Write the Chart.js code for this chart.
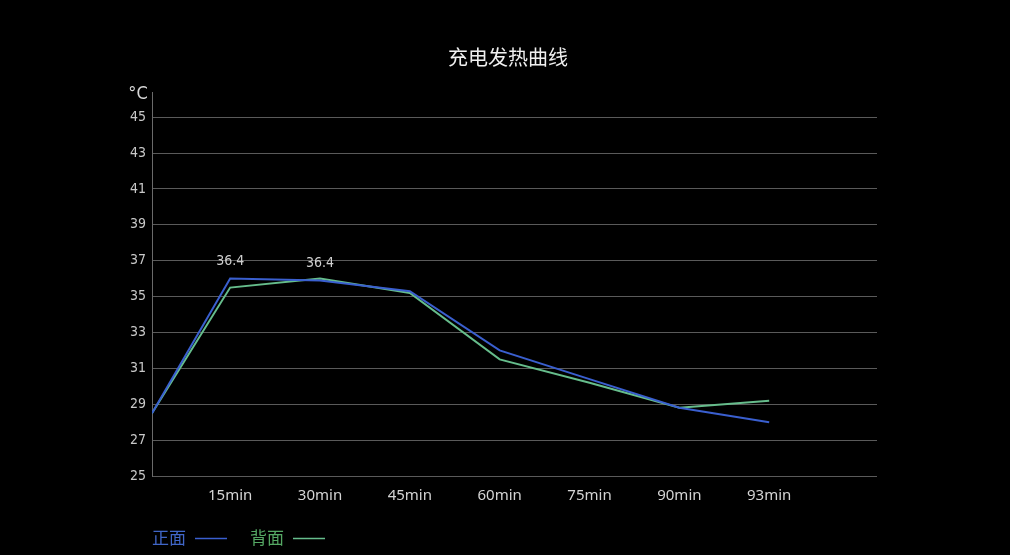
<!DOCTYPE html>
<html>
<head>
<meta charset="utf-8">
<script src="https://cdn.jsdelivr.net/npm/chart.js@4.4.0/dist/chart.umd.min.js"></script>
<style>
  html, body { margin: 0; padding: 0; background: #000; }
  #wrap { position: relative; width: 1010px; height: 555px; }
</style>
</head>
<body>
<div id="wrap"><canvas id="c" width="1010" height="555"></canvas></div>
<script>
// chart data
var title = "充电发热曲线";
var unit = "°C";
var xLabels = ["15min", "30min", "45min", "60min", "75min", "90min", "93min"];
var xPos = [0.13, 1, 2, 3, 4, 5, 6, 7];        // start point sits on the y axis
var yTicks = [25, 27, 29, 31, 33, 35, 37, 39, 41, 43, 45];
var frontName = "正面";
var backName = "背面";
var frontTemp = [28.5, 36.0, 35.9, 35.3, 32.0, 30.4, 28.8, 28.0];
var backTemp  = [28.5, 35.5, 36.0, 35.2, 31.5, 30.2, 28.8, 29.2];
var peakIdx = [1, 2];
var peakText = ["36.4", "36.4"];

var blue = "#3a5fcf";
var green = "#66bd8c";
var narrow = "'DejaVu Sans Condensed', 'Liberation Sans Narrow', 'Roboto Condensed', sans-serif";

function pts(vals) {
    return vals.map(function (v, i) { return { x: xPos[i], y: v }; });
}

var extras = {
    id: "extras",
    afterDraw: function (chart) {
        var ctx = chart.ctx;
        var xs = chart.scales.x, ys = chart.scales.y;
        ctx.save();
        ctx.textAlign = "center";
        ctx.textBaseline = "middle";

        ctx.fillStyle = "#f0f0f0";
        ctx.font = "20px 'Noto Sans CJK SC'";
        ctx.fillText(title, 508, 57);

        ctx.fillStyle = "#d8d8d8";
        ctx.font = "18px " + narrow;
        ctx.fillText(unit, 138, 94);

        ctx.fillStyle = "#cfcfcf";
        ctx.font = "14px " + narrow;
        peakIdx.forEach(function (idx, k) {
            var px = xs.getPixelForValue(xPos[idx]);
            var py = ys.getPixelForValue(frontTemp[idx]);
            ctx.fillText(peakText[k], px, py - 17);
        });

        // legend
        ctx.textAlign = "left";
        ctx.font = "17px 'Noto Sans CJK SC'";
        ctx.lineWidth = 1.5;
        [[frontName, blue, "#4066c8", 152], [backName, green, "#55a864", 250]].forEach(function (e) {
            ctx.fillStyle = e[2];
            ctx.fillText(e[0], e[3], 538);
            ctx.strokeStyle = e[1];
            ctx.beginPath();
            ctx.moveTo(e[3] + 43, 538.5);
            ctx.lineTo(e[3] + 75, 538.5);
            ctx.stroke();
        });
        ctx.restore();
    }
};

new Chart(document.getElementById("c"), {
    type: "line",
    data: {
        datasets: [{
            label: frontName,
            data: pts(frontTemp),
            borderColor: blue,
            borderWidth: 2,
            pointRadius: 0,
            tension: 0
        }, {
            label: backName,
            data: pts(backTemp),
            borderColor: green,
            borderWidth: 2,
            pointRadius: 0,
            tension: 0
        }]
    },
    options: {
        responsive: false,
        animation: false,
        layout: { padding: { left: 0, right: 133, top: 92, bottom: 0 } },
        plugins: { legend: { display: false }, tooltip: { enabled: false } },
        scales: {
            x: {
                type: "linear",
                min: xPos[0],
                max: 8.2,
                afterFit: function (s) { s.height = 79; },
                afterBuildTicks: function (s) {
                    s.ticks = xLabels.map(function (l, i) { return { value: i + 1 }; });
                },
                grid: { display: false, drawTicks: false },
                border: { display: false },
                ticks: {
                    padding: 11,
                    color: "#d4d4d4",
                    font: { family: "'Noto Sans', sans-serif", size: 15 },
                    callback: function (v) { return xLabels[v - 1]; }
                }
            },
            y: {
                min: 25,
                max: 46.4,
                afterFit: function (s) { s.width = 152; },
                afterBuildTicks: function (s) {
                    s.ticks = yTicks.map(function (v) { return { value: v }; });
                },
                grid: { color: "#5a5a5a", lineWidth: 1, drawTicks: false },
                border: { display: true, color: "#6a6a6a", width: 1 },
                ticks: {
                    padding: 6,
                    color: "#c8c8c8",
                    font: { family: narrow, size: 14 }
                }
            }
        }
    },
    plugins: [extras]
});
</script>
</body>
</html>
